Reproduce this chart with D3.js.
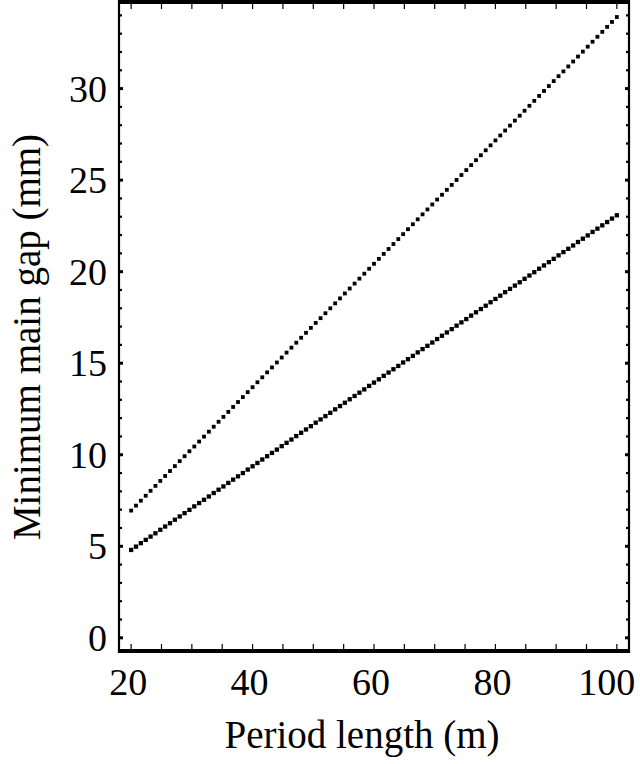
<!DOCTYPE html>
<html>
<head>
<meta charset="utf-8">
<script src="https://cdn.jsdelivr.net/npm/d3@7"></script>
<style>
html,body{margin:0;padding:0;background:#fff;}
svg{display:block;}
text{font-family:"Liberation Serif","Times New Roman",serif;fill:#000;}
</style>
</head>
<body>
<svg id="chart" width="640" height="764"></svg>
<script>
const periodLength = [20,20.8,21.6,22.4,23.2,24,24.8,25.6,26.4,27.2,28,28.8,29.6,30.4,31.2,32,32.8,33.6,34.4,35.2,36,36.8,37.6,38.4,39.2,40,40.8,41.6,42.4,43.2,44,44.8,45.6,46.4,47.2,48,48.8,49.6,50.4,51.2,52,52.8,53.6,54.4,55.2,56,56.8,57.6,58.4,59.2,60,60.8,61.6,62.4,63.2,64,64.8,65.6,66.4,67.2,68,68.8,69.6,70.4,71.2,72,72.8,73.6,74.4,75.2,76,76.8,77.6,78.4,79.2,80,80.8,81.6,82.4,83.2,84,84.8,85.6,86.4,87.2,88,88.8,89.6,90.4,91.2,92,92.8,93.6,94.4,95.2,96,96.8,97.6,98.4,99.2,100];
const upperGap = [6.95,7.22,7.49,7.76,8.03,8.30,8.57,8.84,9.11,9.38,9.65,9.92,10.19,10.45,10.72,10.99,11.26,11.53,11.80,12.07,12.34,12.61,12.88,13.15,13.42,13.69,13.96,14.23,14.50,14.77,15.04,15.31,15.58,15.85,16.12,16.39,16.66,16.93,17.20,17.46,17.73,18.00,18.27,18.54,18.81,19.08,19.35,19.62,19.89,20.16,20.43,20.70,20.97,21.24,21.51,21.78,22.05,22.32,22.59,22.86,23.13,23.40,23.67,23.94,24.20,24.47,24.74,25.01,25.28,25.55,25.82,26.09,26.36,26.63,26.90,27.17,27.44,27.71,27.98,28.25,28.52,28.79,29.06,29.33,29.60,29.87,30.14,30.41,30.68,30.94,31.21,31.48,31.75,32.02,32.29,32.56,32.83,33.10,33.37,33.64,33.91];
const lowerGap = [4.80,4.98,5.17,5.35,5.53,5.71,5.90,6.08,6.26,6.45,6.63,6.81,6.99,7.18,7.36,7.54,7.72,7.91,8.09,8.27,8.46,8.64,8.82,9.00,9.19,9.37,9.55,9.74,9.92,10.10,10.28,10.47,10.65,10.83,11.02,11.20,11.38,11.56,11.75,11.93,12.11,12.29,12.48,12.66,12.84,13.03,13.21,13.39,13.57,13.76,13.94,14.12,14.31,14.49,14.67,14.85,15.04,15.22,15.40,15.59,15.77,15.95,16.13,16.32,16.50,16.68,16.86,17.05,17.23,17.41,17.60,17.78,17.96,18.14,18.33,18.51,18.69,18.88,19.06,19.24,19.42,19.61,19.79,19.97,20.16,20.34,20.52,20.70,20.89,21.07,21.25,21.43,21.62,21.80,21.98,22.17,22.35,22.53,22.71,22.90,23.08];
const xTickLabels = [20,40,60,80,100];
const yTickLabels = [0,5,10,15,20,25,30];
const xTitle = "Period length (m)";
const yTitle = "Minimum main gap (mm)";

const svg = d3.select("#chart");
const pLeft = 119, pRight = 629, pTop = 2, pBottom = 651;
const x = d3.scaleLinear().domain([18, 102]).range([pLeft, pRight]);
const y = d3.scaleLinear().domain([-0.72, 34.73]).range([pBottom, pTop]);

const xMinor = d3.range(20, 101, 5);
const yMinor = d3.range(0, 35, 1);

const g = svg.append("g");
g.selectAll(".xb").data(xMinor).join("line")
  .attr("x1", d => x(d)).attr("x2", d => x(d))
  .attr("y1", pBottom).attr("y2", pBottom - 7)
  .attr("stroke", "#000").attr("stroke-width", 1.2);
g.selectAll(".xt").data(xMinor).join("line")
  .attr("x1", d => x(d)).attr("x2", d => x(d))
  .attr("y1", pTop).attr("y2", pTop + 7)
  .attr("stroke", "#000").attr("stroke-width", 1.2);
g.selectAll(".yl").data(yMinor).join("line")
  .attr("x1", pLeft).attr("x2", d => pLeft + (d % 5 === 0 ? 4 : 3))
  .attr("y1", d => y(d)).attr("y2", d => y(d))
  .attr("stroke", "#000").attr("stroke-width", d => d % 5 === 0 ? 3 : 2.2);
g.selectAll(".yr").data(yMinor).join("line")
  .attr("x1", pRight).attr("x2", d => pRight - (d % 5 === 0 ? 4 : 3))
  .attr("y1", d => y(d)).attr("y2", d => y(d))
  .attr("stroke", "#000").attr("stroke-width", d => d % 5 === 0 ? 3 : 2.2);

svg.append("line").attr("x1", pLeft).attr("x2", pLeft).attr("y1", 0).attr("y2", pBottom + 2)
  .attr("stroke", "#000").attr("stroke-width", 2.2);
svg.append("line").attr("x1", pRight).attr("x2", pRight).attr("y1", 0).attr("y2", pBottom + 2)
  .attr("stroke", "#000").attr("stroke-width", 2.2);
svg.append("line").attr("x1", pLeft - 1).attr("x2", pRight + 1).attr("y1", pTop).attr("y2", pTop)
  .attr("stroke", "#000").attr("stroke-width", 4);
svg.append("line").attr("x1", pLeft - 1).attr("x2", pRight + 1).attr("y1", pBottom).attr("y2", pBottom)
  .attr("stroke", "#000").attr("stroke-width", 4);

svg.selectAll(".xl").data(xTickLabels).join("text")
  .attr("x", d => d === 100 ? x(d) - 10 : x(d) - 3).attr("y", 695)
  .attr("text-anchor", "middle").attr("font-size", 38).text(d => d);
svg.selectAll(".ylab").data(yTickLabels).join("text")
  .attr("x", 107).attr("y", d => y(d) + 13)
  .attr("text-anchor", "end").attr("font-size", 38).text(d => d);

svg.append("text").attr("x", 362).attr("y", 748).attr("text-anchor", "middle")
  .attr("font-size", 39).text(xTitle);
svg.append("text").attr("transform", "translate(40,337) rotate(-90)")
  .attr("text-anchor", "middle").attr("font-size", 39).text(yTitle);

const sizes = [3.8, 4.3];
[upperGap, lowerGap].forEach((series, k) => {
  const s = sizes[k];
  svg.append("g").selectAll("rect").data(periodLength).join("rect")
    .attr("x", d => x(d) - s / 2)
    .attr("y", (d, i) => y(series[i]) - s / 2)
    .attr("width", s).attr("height", s).attr("fill", "#000");
});
</script>
</body>
</html>
